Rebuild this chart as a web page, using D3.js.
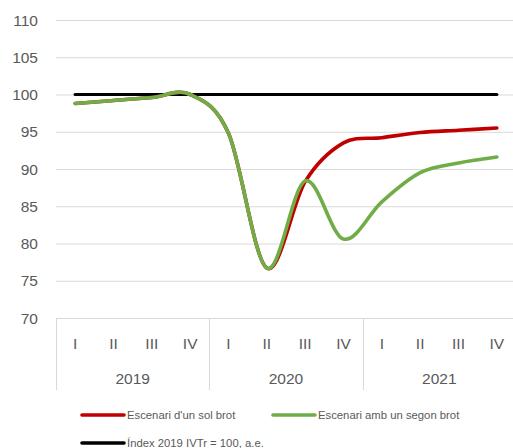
<!DOCTYPE html>
<html>
<head>
<meta charset="utf-8">
<script src="https://cdn.jsdelivr.net/npm/d3@7"></script>
<style>
  html, body { margin: 0; padding: 0; background: #fff; }
  svg { display: block; }
  text { font-family: "Liberation Sans", Arial, sans-serif; fill: #595959; }
</style>
</head>
<body>
<svg id="chart" width="513" height="448"></svg>
<script>
const years = ["2019", "2020", "2021"];
const quarters = ["I", "II", "III", "IV"];
const yTicks = [70, 75, 80, 85, 90, 95, 100, 105, 110];
const seriesNames = ["Escenari d'un sol brot", "Escenari amb un segon brot", "Índex 2019 IVTr = 100, a.e."];
const seriesColors = ["#C00000", "#70AD47", "#000000"];
const solBrot   = [98.8, 99.2, 99.6, 100.0, 94.8, 76.7, 88.3, 93.5, 94.2, 94.9, 95.2, 95.5];
const segonBrot = [98.8, 99.2, 99.6, 100.0, 94.8, 76.7, 88.4, 80.6, 85.6, 89.5, 90.8, 91.6];
const index100  = [100, 100, 100, 100, 100, 100, 100, 100, 100, 100, 100, 100];

const categories = [];
years.forEach(yy => quarters.forEach(q => categories.push(yy + "-" + q)));

const svg = d3.select("#chart");
const plotL = 56, plotR = 516, plotT = 20, plotB = 318;

const x = d3.scalePoint().domain(categories).range([plotL, plotR]).padding(0.5);
const xYear = d3.scaleBand().domain(years).range([plotL, plotR]);
const y = d3.scaleLinear().domain([70, 110]).range([plotB, plotT]);

// gridlines
svg.append("g").selectAll("line").data(yTicks).join("line")
  .attr("x1", plotL).attr("x2", plotR)
  .attr("y1", d => y(d) + 0.5).attr("y2", d => y(d) + 0.5)
  .attr("stroke", "#d9d9d9").attr("stroke-width", 1);

// y tick labels
svg.append("g").selectAll("text").data(yTicks).join("text")
  .attr("x", 38).attr("y", d => y(d))
  .attr("dy", "0.36em")
  .attr("text-anchor", "end")
  .style("font-size", "15.5px")
  .text(d => d);

// year separators
const seps = years.map(yy => xYear(yy)).concat([plotR]);
svg.append("g").selectAll("line").data(seps).join("line")
  .attr("x1", d => Math.round(d) + 0.5).attr("x2", d => Math.round(d) + 0.5)
  .attr("y1", plotB).attr("y2", 390)
  .attr("stroke", "#d9d9d9").attr("stroke-width", 1);

// quarter labels
svg.append("g").selectAll("text").data(categories).join("text")
  .attr("x", d => x(d)).attr("y", 343)
  .attr("dy", "0.36em")
  .attr("text-anchor", "middle")
  .style("font-size", "15.5px")
  .text(d => d.split("-")[1]);

// year labels
svg.append("g").selectAll("text").data(years).join("text")
  .attr("x", d => xYear(d) + xYear.bandwidth() / 2).attr("y", 378)
  .attr("dy", "0.36em")
  .attr("text-anchor", "middle")
  .style("font-size", "15.5px")
  .text(d => d);

const line = d3.line()
  .x((d, i) => x(categories[i]))
  .y(d => y(d))
  .curve(d3.curveCatmullRom.alpha(0));

const drawOrder = [[index100, 2, 3.2], [solBrot, 0, 3.6], [segonBrot, 1, 3.6]];
drawOrder.forEach(([vals, ci, w]) => {
  svg.append("path").datum(vals)
    .attr("d", line)
    .attr("fill", "none")
    .attr("stroke", seriesColors[ci])
    .attr("stroke-width", w)
    .attr("stroke-linecap", "round")
    .attr("stroke-linejoin", "round");
});

// legend
const legendPos = [[82, 415], [273, 415], [82, 443]];
const lg = svg.append("g").selectAll("g").data(seriesNames).join("g")
  .attr("transform", (d, i) => `translate(${legendPos[i][0]},${legendPos[i][1]})`);
lg.append("line")
  .attr("x1", 0).attr("x2", 42).attr("y1", 0).attr("y2", 0)
  .attr("stroke", (d, i) => seriesColors[i])
  .attr("stroke-width", 3.6)
  .attr("stroke-linecap", "round");
lg.append("text")
  .attr("x", 45).attr("y", 0).attr("dy", "0.36em")
  .style("font-size", "11.3px")
  .text(d => d);
</script>
</body>
</html>
